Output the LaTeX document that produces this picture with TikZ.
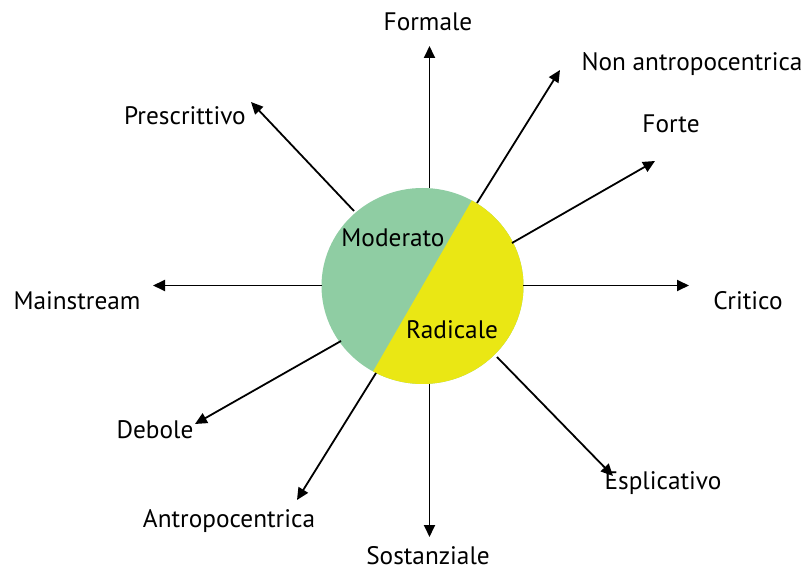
\documentclass[tikz,border=0pt]{standalone}
\usepackage{fontspec}
\setmainfont{PT Sans}
\usetikzlibrary{arrows.meta}
\definecolor{modgreen}{HTML}{8FCDA3}
\definecolor{radyellow}{HTML}{EAE714}
\tikzset{
  lbl/.style={inner sep=0pt, font=\fontsize{25.3}{29}\selectfont, text=black},
  ray/.style={line width=1.8pt, -{Triangle[length=12pt,width=11pt]}},
}
\begin{document}
\begin{tikzpicture}[x=1pt,y=-1pt]
\useasboundingbox (0,0) rectangle (804,569);
% circle halves
\begin{scope}
  \clip (422.5,286) ellipse [x radius=101pt, y radius=98pt];
  \fill[modgreen] (300,170) rectangle (540,400);
  \fill[radyellow] (522.5,112.8) -- (700,112.8) -- (700,459) -- (322.5,459) -- cycle;
\end{scope}
\node[lbl] (moderato) at (393,238) {Moderato};
\node[lbl] (radicale) at (452,330) {Radicale};
% start points on circle
\coordinate (sFor) at (429.5,188);
\coordinate (sNon) at (477,203);
\coordinate (sFte) at (512,243);
\coordinate (sCri) at (523,285.5);
\coordinate (sEsp) at (497,357);
\coordinate (sSos) at (429.5,384);
\coordinate (sAnt) at (376,373);
\coordinate (sDeb) at (341,341);
\coordinate (sMai) at (322,285.5);
\coordinate (sPre) at (354,211);
% tips
\coordinate (tFor) at (429.5,46);
\coordinate (tNon) at (560,70);
\coordinate (tFte) at (655,161);
\coordinate (tCri) at (689,285.5);
\coordinate (tEsp) at (613,476);
\coordinate (tSos) at (429.5,537);
\coordinate (tAnt) at (297,500);
\coordinate (tDeb) at (195,424);
\coordinate (tMai) at (153,285.5);
\coordinate (tPre) at (251,102);
% labels
\node[lbl] (formale) at (428,22) {Formale};
\node[lbl] (nonantro) at (692,64) {Non antropocentrica};
\node[lbl] (forte) at (671,124) {Forte};
\node[lbl] (critico) at (748,301) {Critico};
\node[lbl] (esplicativo) at (663,483) {Esplicativo};
\node[lbl] (sostanziale) at (428,556) {Sostanziale};
\node[lbl] (antro) at (229,521) {Antropocentrica};
\node[lbl] (debole) at (155,430) {Debole};
\node[lbl] (mainstream) at (77,301) {Mainstream};
\node[lbl] (prescrittivo) at (185,116) {Prescrittivo};
% rays
\draw[ray] (sFor) -- (tFor);
\draw[ray] (sNon) -- (tNon);
\draw[ray] (sFte) -- (tFte);
\draw[ray] (sCri) -- (tCri);
\draw[ray] (sEsp) -- (tEsp);
\draw[ray] (sSos) -- (tSos);
\draw[ray] (sAnt) -- (tAnt);
\draw[ray] (sDeb) -- (tDeb);
\draw[ray] (sMai) -- (tMai);
\draw[ray] (sPre) -- (tPre);
\end{tikzpicture}
\end{document}
